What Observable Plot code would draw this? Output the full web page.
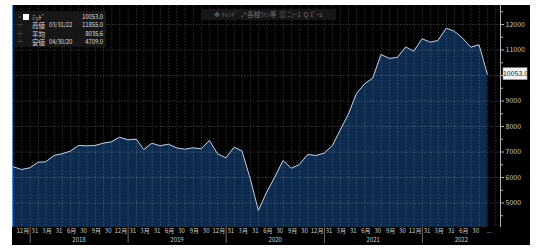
<!DOCTYPE html>
<html><head><meta charset="utf-8">
<script src="https://cdn.jsdelivr.net/npm/d3@7"></script>
<script src="https://cdn.jsdelivr.net/npm/@observablehq/plot@0.6"></script>
<style>
html,body{margin:0;padding:0;background:#fff;width:540px;height:248px;overflow:hidden;}
#wrap{position:relative;width:540px;height:248px;}
#bg{position:absolute;left:12px;top:5px;width:518px;height:240px;background:#000;}
#edge{position:absolute;left:12px;top:5px;width:1px;height:222px;background:#4a8fd8;}
#chart{position:absolute;left:0;top:0;}
#toolbar{position:absolute;left:201px;top:9px;width:135px;height:11px;background:#161616;color:#707070;font-family:"Noto Sans CJK JP";font-size:6.5px;line-height:11px;white-space:nowrap;text-align:center;}
#legend{position:absolute;left:14px;top:11px;width:92px;height:36px;background:rgba(26,26,26,0.85);font-family:"Noto Sans CJK JP";font-size:6.5px;color:#ddd;}
#legend .row{position:absolute;left:0;width:92px;height:8.5px;line-height:8.5px;white-space:nowrap;}
#legend .ic{position:absolute;left:3px;color:#888;font-size:6px;}
#legend .sq{position:absolute;left:9px;top:1.5px;width:5.5px;height:5.5px;background:#fff;}
#legend .lb{position:absolute;left:18px;}
#legend .dt{position:absolute;left:35px;font-size:6px;letter-spacing:-0.2px;}
#legend .vl{position:absolute;right:3px;font-size:6px;letter-spacing:-0.1px;}
</style></head>
<body><div id="wrap"><div id="bg"></div><div id="edge"></div><div id="chart"></div>
<div id="toolbar">✥ ﾄﾚﾝﾄﾞ &nbsp;⤢ 各種ﾗｲﾝ等 &nbsp;▥ ﾆｭｰｽ &nbsp;Q ｽﾞｰﾑ</div>
<div id="legend"></div></div>
<script>
const months = [
 "2017-10-31","2017-11-30","2017-12-31",
 "2018-01-31","2018-02-28","2018-03-31","2018-04-30","2018-05-31","2018-06-30","2018-07-31","2018-08-31","2018-09-30","2018-10-31","2018-11-30","2018-12-31",
 "2019-01-31","2019-02-28","2019-03-31","2019-04-30","2019-05-31","2019-06-30","2019-07-31","2019-08-31","2019-09-30","2019-10-31","2019-11-30","2019-12-31",
 "2020-01-31","2020-02-29","2020-03-31","2020-04-30","2020-05-31","2020-06-30","2020-07-31","2020-08-31","2020-09-30","2020-10-31","2020-11-30","2020-12-31",
 "2021-01-31","2021-02-28","2021-03-31","2021-04-30","2021-05-31","2021-06-30","2021-07-31","2021-08-31","2021-09-30","2021-10-31","2021-11-30","2021-12-31",
 "2022-01-31","2022-02-28","2022-03-31","2022-04-30","2022-05-31","2022-06-30","2022-07-31","2022-08-31"
];
const values = [
 6420,6314,6380,
 6600,6615,6863,6930,7032,7255,7243,7255,7345,7400,7580,7478,
 7503,7098,7345,7243,7307,7165,7110,7165,7125,7451,6930,6773,
 7188,7040,5950,4709,5424,6012,6667,6365,6510,6902,6863,6953,
 7255,7843,8471,9282,9675,9895,10824,10670,10710,11120,10953,11440,
 11306,11373,11855,11737,11463,11110,11204,10053
];
const legendRows = [
 {icon:"▫", label:"ﾐｯﾄﾞ", date:"", value:"10053.0", square:true},
 {icon:"┬", label:"高値", date:"03/31/22", value:"11855.0"},
 {icon:"┼", label:"平均", date:"", value:"8035.6"},
 {icon:"┴", label:"安値", date:"04/30/20", value:"4709.0"}
];
const lastLabel = "10053.0";
const yTicks = [5000,6000,7000,8000,9000,10000,11000,12000];
const yMinorTicks = [4500,5500,6500,7500,8500,9500,10500,11500,12500];
const xDomain = ["2017-10-31","2022-10-19"];
const yDomain = [4040,12745];
const monthLabels = [
 {date:"2017-12-01",label:"12月"},
 {date:"2018-03-01",label:"3月"},{date:"2018-06-01",label:"6月"},{date:"2018-09-01",label:"9月"},{date:"2018-12-01",label:"12月"},
 {date:"2019-03-01",label:"3月"},{date:"2019-06-01",label:"6月"},{date:"2019-09-01",label:"9月"},{date:"2019-12-01",label:"12月"},
 {date:"2020-03-01",label:"3月"},{date:"2020-06-01",label:"6月"},{date:"2020-09-01",label:"9月"},{date:"2020-12-01",label:"12月"},
 {date:"2021-03-01",label:"3月"},{date:"2021-06-01",label:"6月"},{date:"2021-09-01",label:"9月"},{date:"2021-12-01",label:"12月"},
 {date:"2022-03-01",label:"3月"},{date:"2022-06-01",label:"6月"},{date:"2022-09-03",label:"..."}
];
const dayLabels = [
 {date:"2017-12-31",label:"31"},
 {date:"2018-03-31",label:"31"},{date:"2018-06-30",label:"30"},{date:"2018-09-30",label:"30"},{date:"2018-12-31",label:"31"},
 {date:"2019-03-31",label:"31"},{date:"2019-06-30",label:"30"},{date:"2019-09-30",label:"30"},{date:"2019-12-31",label:"31"},
 {date:"2020-03-31",label:"31"},{date:"2020-06-30",label:"30"},{date:"2020-09-30",label:"30"},{date:"2020-12-31",label:"31"},
 {date:"2021-03-31",label:"31"},{date:"2021-06-30",label:"30"},{date:"2021-09-30",label:"30"},{date:"2021-12-31",label:"31"},
 {date:"2022-03-31",label:"31"},{date:"2022-06-30",label:"30"}
];
const yearLabels = [
 {date:"2018-07-02",label:"2018"},{date:"2019-07-02",label:"2019"},{date:"2020-07-02",label:"2020"},
 {date:"2021-07-02",label:"2021"},{date:"2022-05-26",label:"2022"}
];
const yearStarts = ["2018-01-01","2019-01-01","2020-01-01","2021-01-01","2022-01-01"];

const P = s => new Date(s);
const data = months.map((m,i) => ({date:P(m), value:values[i]}));
const xd = xDomain.map(P);
const gridMonths = d3.utcMonth.range(xd[0], xd[1]);
const last = data[data.length-1];

// legend
const lg = document.getElementById("legend");
legendRows.forEach((r,i) => {
  const row = document.createElement("div");
  row.className = "row";
  row.style.top = (1.5 + i*8.5) + "px";
  row.innerHTML = `<span class="ic">${r.icon}</span>${r.square?'<span class="sq"></span>':''}<span class="lb">${r.label}</span><span class="dt">${r.date}</span><span class="vl">${r.value}</span>`;
  lg.appendChild(row);
});

const chart = Plot.plot({
  width: 540, height: 248,
  marginLeft: 13, marginRight: 40, marginTop: 5, marginBottom: 21,
  style: {background: "transparent", fontFamily: "'Noto Sans CJK JP', 'Noto Sans', sans-serif", color: "#c8c8c8"},
  x: {type: "utc", domain: xd, axis: null},
  y: {domain: yDomain, axis: null},
  marks: [
    Plot.areaY(data, {x: "date", y1: yDomain[0], y2: "value", fill: "#0c2b4f"}),
    Plot.ruleY(yTicks, {stroke: "#fff", strokeOpacity: 0.2, strokeDasharray: "1.5,1.5"}),
    Plot.ruleX(gridMonths, {stroke: "#fff", strokeOpacity: 0.18, strokeDasharray: "1.5,1.5"}),
    Plot.line(data, {x: "date", y: "value", stroke: "#c9ced6", strokeWidth: 1}),
    Plot.ruleX([xd[1]], {stroke: "#b0b0b0"}),
    Plot.axisY({anchor: "right", label: null, ticks: yTicks, tickSize: 3, tickPadding: 2, fontSize: 7, tickFormat: d => (String(d) === lastLabel.slice(0,2) + "000" ? "" : String(d)), color: "#c8c8c8", stroke: "#b0b0b0"}),
    Plot.axisY({anchor: "right", label: null, ticks: yMinorTicks, tickSize: 2, tickFormat: () => "", stroke: "#b0b0b0"}),
    Plot.rect([last], {x1: () => d3.utcDay.offset(xd[1], 11), x2: () => d3.utcDay.offset(xd[1], 101), y1: d => d.value - 240, y2: d => d.value + 240, fill: "#f4f4f4", stroke: "#777", strokeWidth: 0.5}),
    Plot.text([last], {x: () => xd[1], y: "value", text: () => lastLabel, dx: 15, fontSize: 7, fill: "#111"}),
    Plot.text(monthLabels, {x: d => P(d.date), text: "label", frameAnchor: "bottom", dy: 5, dx: 1, fontSize: 6, fill: "#cfcfcf"}),
    Plot.text(dayLabels, {x: d => P(d.date), text: "label", frameAnchor: "bottom", dy: 5, dx: 5, fontSize: 6, fill: "#cfcfcf"}),
    Plot.text(yearLabels, {x: d => P(d.date), text: "label", frameAnchor: "bottom", dy: 14, fontSize: 6, fill: "#cfcfcf"}),
    Plot.ruleX(yearStarts.map(P), {insetTop: 206, dy: 16, stroke: "#8a8a8a", strokeWidth: 0.8})
  ]
});
document.getElementById("chart").appendChild(chart);
</script>
</body></html>
